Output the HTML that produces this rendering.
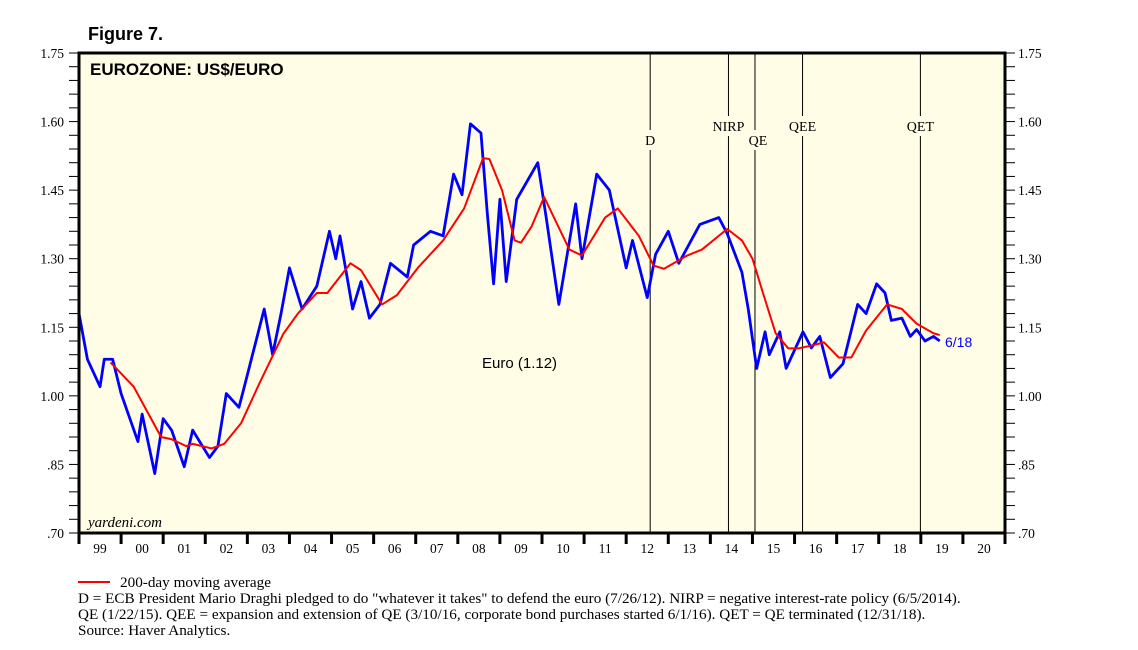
<!DOCTYPE html>
<html><head><meta charset="utf-8"><style>
body{margin:0;background:#fff;width:1138px;height:650px;overflow:hidden}
svg{display:block}
.ser{font-family:"Liberation Serif",serif}
.san{font-family:"Liberation Sans",sans-serif}
</style></head><body>
<svg id="chart" width="1138" height="650" xmlns="http://www.w3.org/2000/svg">
<text x="88" y="40" class="san" font-size="18" font-weight="bold">Figure 7.</text>
<rect x="79" y="53" width="926" height="480" fill="#fffde6"/>
<g id="grid"></g>
<g id="series"></g>
<rect x="79" y="53" width="926" height="480" fill="none" stroke="#000" stroke-width="3"/>
<text x="90" y="75" class="san" font-size="17" font-weight="bold">EUROZONE: US$/EURO</text>
<text x="88" y="527" class="ser" font-size="15" font-style="italic">yardeni.com</text>
<text x="482" y="368" class="san" font-size="15">Euro (1.12)</text>
<text x="945" y="347" class="san" font-size="14" fill="#0000ff">6/18</text>
<line x1="78" y1="582" x2="110" y2="582" stroke="#f00" stroke-width="2"/>
<text x="120" y="587" class="ser" font-size="15.2">200-day moving average</text>
<text x="78" y="603" class="ser" font-size="15.2">D = ECB President Mario Draghi pledged to do "whatever it takes" to defend the euro (7/26/12). NIRP = negative interest-rate policy (6/5/2014).</text>
<text x="78" y="619" class="ser" font-size="15.2">QE (1/22/15). QEE = expansion and extension of QE (3/10/16, corporate bond purchases started 6/1/16). QET = QE terminated (12/31/18).</text>
<text x="78" y="635" class="ser" font-size="15.2">Source: Haver Analytics.</text>
</svg>
<script>
const yTicks=[1.75,1.60,1.45,1.30,1.15,1.00,0.85,0.70];
const yTickLabels=["1.75","1.60","1.45","1.30","1.15","1.00",".85",".70"];
const years=["99","00","01","02","03","04","05","06","07","08","09","10","11","12","13","14","15","16","17","18","19","20"];
const euroT=[1999.0,1999.2,1999.5,1999.6,1999.8,2000.0,2000.4,2000.5,2000.8,2001.0,2001.2,2001.5,2001.7,2002.1,2002.3,2002.5,2002.8,2002.9,2003.15,2003.4,2003.6,2003.8,2004.0,2004.3,2004.65,2004.95,2005.1,2005.2,2005.5,2005.7,2005.9,2006.15,2006.4,2006.8,2006.95,2007.35,2007.65,2007.9,2008.1,2008.3,2008.55,2008.7,2008.85,2009.0,2009.15,2009.4,2009.9,2010.1,2010.4,2010.6,2010.8,2010.95,2011.3,2011.6,2012.0,2012.15,2012.5,2012.7,2013.0,2013.25,2013.75,2014.2,2014.4,2014.75,2014.9,2015.1,2015.3,2015.4,2015.65,2015.8,2016.2,2016.4,2016.6,2016.85,2017.15,2017.5,2017.7,2017.95,2018.15,2018.3,2018.55,2018.75,2018.9,2019.1,2019.3,2019.45];
const euroV=[1.18,1.08,1.02,1.08,1.08,1.005,0.90,0.96,0.83,0.95,0.925,0.845,0.925,0.865,0.89,1.005,0.975,1.01,1.10,1.19,1.09,1.18,1.28,1.19,1.24,1.36,1.30,1.35,1.19,1.25,1.17,1.20,1.29,1.26,1.33,1.36,1.35,1.485,1.44,1.595,1.575,1.40,1.245,1.43,1.25,1.43,1.51,1.39,1.20,1.31,1.42,1.30,1.485,1.45,1.28,1.34,1.215,1.31,1.36,1.29,1.375,1.39,1.355,1.27,1.19,1.06,1.14,1.09,1.14,1.06,1.14,1.105,1.13,1.04,1.07,1.20,1.18,1.245,1.225,1.165,1.17,1.13,1.145,1.12,1.13,1.12];
const maT=[1999.75,2000.3,2000.95,2001.2,2001.55,2001.7,2002.15,2002.45,2002.85,2003.3,2003.85,2004.2,2004.65,2004.9,2005.45,2005.7,2006.2,2006.55,2007.05,2007.65,2008.15,2008.6,2008.75,2009.05,2009.35,2009.5,2009.75,2010.05,2010.65,2010.95,2011.5,2011.8,2012.3,2012.65,2012.9,2013.45,2013.8,2014.4,2014.75,2015.0,2015.25,2015.55,2015.85,2016.1,2016.4,2016.7,2017.05,2017.35,2017.7,2018.2,2018.55,2018.9,2019.3,2019.45];
const maV=[1.073,1.02,0.91,0.905,0.89,0.895,0.885,0.895,0.94,1.03,1.135,1.18,1.225,1.225,1.29,1.275,1.20,1.22,1.28,1.34,1.41,1.52,1.518,1.45,1.34,1.335,1.37,1.435,1.32,1.307,1.39,1.41,1.35,1.285,1.278,1.307,1.32,1.365,1.34,1.30,1.225,1.137,1.104,1.104,1.11,1.117,1.084,1.084,1.143,1.20,1.19,1.158,1.137,1.133];
const eventNames=["D","NIRP","QE","QEE","QET"];
const eventT=[2012.57,2014.43,2015.06,2016.19,2018.99];
const NS="http://www.w3.org/2000/svg";
const X0=79,X1=1005,Y0=53,Y1=533;
const x=t=>X0+(t-1999)*(X1-X0)/22;
const y=v=>Y0+(1.75-v)*(Y1-Y0)/1.05;
function mk(tag,attrs,parent){const e=document.createElementNS(NS,tag);for(const k in attrs)e.setAttribute(k,attrs[k]);parent.appendChild(e);return e;}
const grid=document.getElementById('grid'),ser=document.getElementById('series');
for(let i=0;i<=35;i++){const v=1.75-i*0.03;const yy=y(v);
 const a=mk('line',{x1:69,x2:79,y1:yy,y2:yy,stroke:'#000','stroke-width':1},grid);
 
 
 const b=mk('line',{x1:1005,x2:1015,y1:yy,y2:yy,stroke:'#000','stroke-width':1},grid);
 
 }
yTicks.forEach((v,i)=>{
 const l=mk('text',{x:64,y:y(v)+5,'text-anchor':'end','font-size':13.5,class:'ser'},grid);l.textContent=yTickLabels[i];
 
 
 const r=mk('text',{x:1018,y:y(v)+5,'font-size':13.5,class:'ser'},grid);r.textContent=yTickLabels[i];
 
 });
for(let i=0;i<=years.length;i++){const xx=x(1999+i);
 const t=mk('line',{x1:xx,x2:xx,y1:533,y2:544,stroke:'#000','stroke-width':3},grid);
 
 }
years.forEach((s,i)=>{const l=mk('text',{x:x(1999.5+i),y:553,'text-anchor':'middle','font-size':13.5,class:'ser'},grid);l.textContent=s;
 
 });
eventNames.forEach((n,i)=>{const xx=x(eventT[i]);const high=(n==='D'||n==='QE');const ly=high?145:131;
 const l1=mk('line',{x1:xx,x2:xx,y1:53,y2:ly-15,stroke:'#000','stroke-width':1},ser);
 
 
 const l2=mk('line',{x1:xx,x2:xx,y1:ly+5,y2:533,stroke:'#000','stroke-width':1},ser);
 
 
 const tx=mk('text',{x:xx+(n==='QE'?3:0),y:ly,'text-anchor':'middle','font-size':14,class:'ser'},ser);tx.textContent=n;
 
 });
const pe=mk('polyline',{points:euroT.map((t,i)=>x(t)+','+y(euroV[i])).join(' '),fill:'none',stroke:'#0000ff','stroke-width':2.8,'stroke-linejoin':'round'},ser);


const pm=mk('polyline',{points:maT.map((t,i)=>x(t)+','+y(maV[i])).join(' '),fill:'none',stroke:'#ff0000','stroke-width':2,'stroke-linejoin':'round'},ser);


</script>
</body></html>
